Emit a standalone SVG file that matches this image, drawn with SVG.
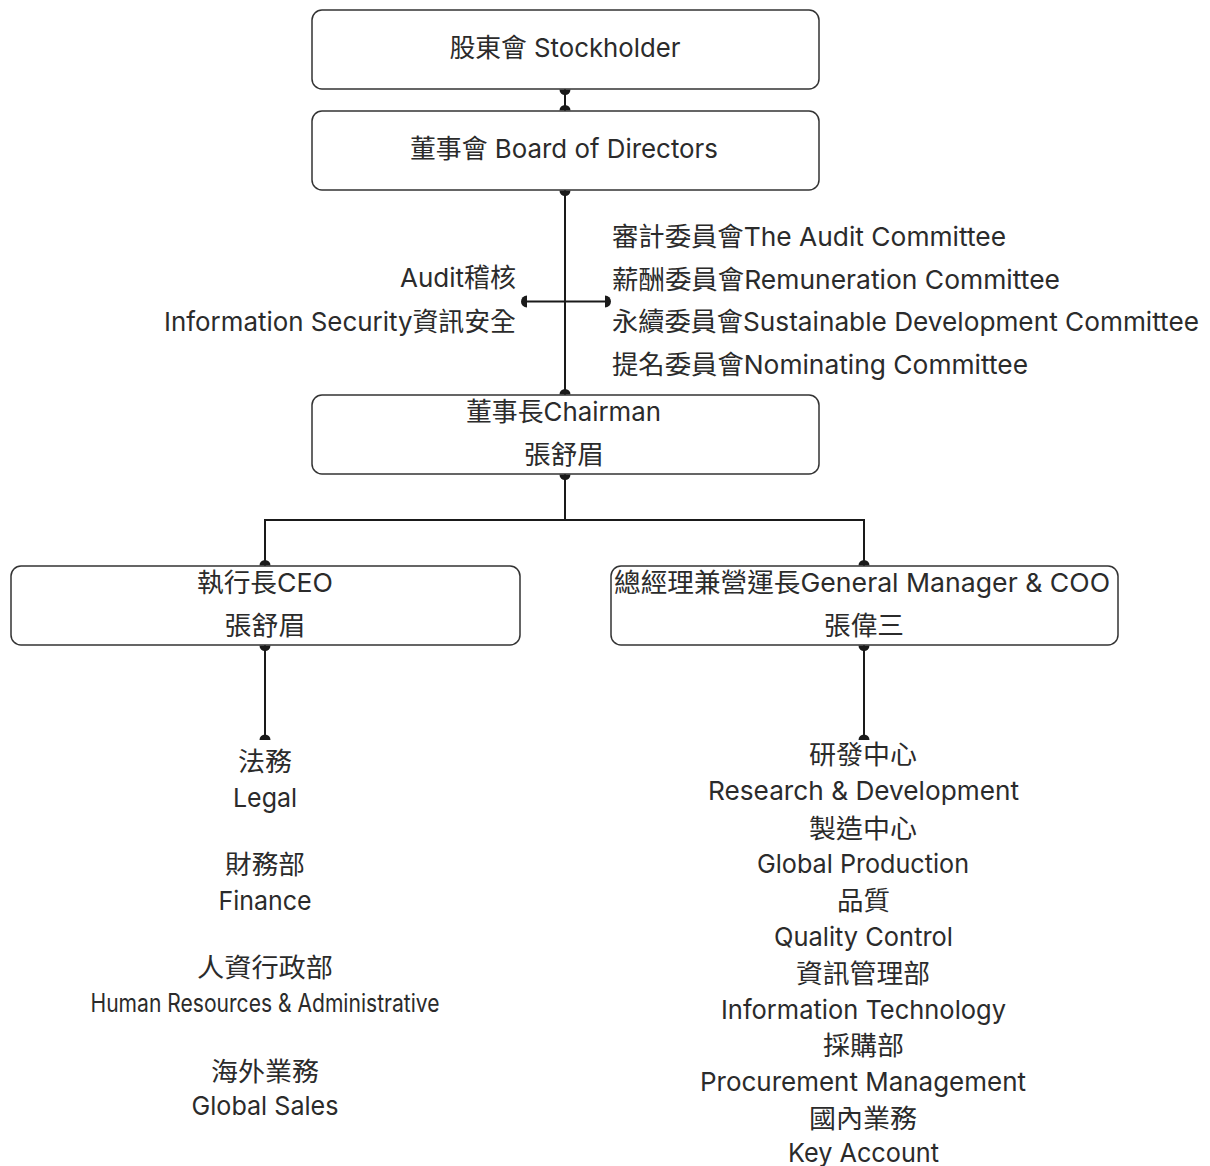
<svg xmlns="http://www.w3.org/2000/svg" width="1210" height="1166" viewBox="0 0 1210 1166">
<style>
.box{fill:#ffffff;stroke:#333333;stroke-width:1.5}
.ln{fill:none;stroke:#1a1a1a;stroke-width:2}
.dot{fill:#1a1a1a;stroke:none}
text{font-family:Inter,"Noto Sans CJK TC","Noto Sans CJK SC",sans-serif;font-size:26px;fill:#2b2b2b}
.c{text-anchor:middle}
.r{text-anchor:end}
</style>
<rect width="1210" height="1166" fill="#ffffff"/>
<g id="connectors">
<line class="ln" x1="565" y1="89" x2="565" y2="111"/>
<path class="dot" d="M559.5,89.5 A5.5,5.5 0 0 0 570.5,89.5 Z"/>
<path class="dot" d="M559.5,110.5 A5.5,5.5 0 0 1 570.5,110.5 Z"/>
<line class="ln" x1="565" y1="190" x2="565" y2="395"/>
<path class="dot" d="M559.5,190.5 A5.5,5.5 0 0 0 570.5,190.5 Z"/>
<path class="dot" d="M559.5,394.5 A5.5,5.5 0 0 1 570.5,394.5 Z"/>
<line class="ln" x1="526" y1="301.5" x2="606" y2="301.5"/>
<path class="dot" d="M527,295.5 A6,6 0 0 0 527,307.5 Z"/>
<path class="dot" d="M605,295.5 A6,6 0 0 1 605,307.5 Z"/>
<polyline class="ln" points="565,474 565,520 265,520 265,566"/>
<polyline class="ln" points="565,520 864,520 864,566"/>
<path class="dot" d="M559.5,474.5 A5.5,5.5 0 0 0 570.5,474.5 Z"/>
<path class="dot" d="M259.5,565.5 A5.5,5.5 0 0 1 270.5,565.5 Z"/>
<path class="dot" d="M858.5,565.5 A5.5,5.5 0 0 1 869.5,565.5 Z"/>
<line class="ln" x1="265" y1="645" x2="265" y2="740"/>
<path class="dot" d="M259.5,645.5 A5.5,5.5 0 0 0 270.5,645.5 Z"/>
<path class="dot" d="M259.5,740 A5.5,5.5 0 0 1 270.5,740 Z"/>
<line class="ln" x1="864" y1="645" x2="864" y2="740"/>
<path class="dot" d="M858.5,645.5 A5.5,5.5 0 0 0 869.5,645.5 Z"/>
<path class="dot" d="M858.5,740 A5.5,5.5 0 0 1 869.5,740 Z"/>
</g>
<g id="stockholder">
<rect class="box" x="312" y="10" width="507" height="79" rx="10"/>
<text class="c" x="565" y="57" textLength="231" lengthAdjust="spacingAndGlyphs">股東會 Stockholder</text>
</g>
<g id="board">
<rect class="box" x="312" y="111" width="507" height="79" rx="10"/>
<text class="c" x="564" y="158" textLength="308" lengthAdjust="spacingAndGlyphs">董事會 Board of Directors</text>
</g>
<g id="audit">
<text class="r" x="516" y="287" textLength="116" lengthAdjust="spacingAndGlyphs">Audit稽核</text>
<text class="r" x="516" y="331" textLength="352" lengthAdjust="spacingAndGlyphs">Information Security資訊安全</text>
</g>
<g id="committees">
<text x="612" y="246" textLength="394" lengthAdjust="spacingAndGlyphs">審計委員會The Audit Committee</text>
<text x="612" y="289" textLength="448" lengthAdjust="spacingAndGlyphs">薪酬委員會Remuneration Committee</text>
<text x="612" y="331" textLength="587" lengthAdjust="spacingAndGlyphs">永續委員會Sustainable Development Committee</text>
<text x="612" y="374" textLength="416" lengthAdjust="spacingAndGlyphs">提名委員會Nominating Committee</text>
</g>
<g id="chairman">
<rect class="box" x="312" y="395" width="507" height="79" rx="10"/>
<text class="c" x="563.5" y="421" textLength="195" lengthAdjust="spacingAndGlyphs">董事長Chairman</text>
<text class="c" x="564" y="464" textLength="80" lengthAdjust="spacingAndGlyphs">張舒眉</text>
</g>
<g id="ceo">
<rect class="box" x="11" y="566" width="509" height="79" rx="10"/>
<text class="c" x="265" y="592" textLength="136" lengthAdjust="spacingAndGlyphs">執行長CEO</text>
<text class="c" x="265" y="635" textLength="81" lengthAdjust="spacingAndGlyphs">張舒眉</text>
</g>
<g id="gm">
<rect class="box" x="611" y="566" width="507" height="79" rx="10"/>
<text class="c" x="862" y="592" textLength="496" lengthAdjust="spacingAndGlyphs">總經理兼營運長General Manager &amp; COO</text>
<text class="c" x="864" y="635" textLength="80" lengthAdjust="spacingAndGlyphs">張偉三</text>
</g>
<g id="ceo-units">
<text class="c" x="265" y="771" textLength="54" lengthAdjust="spacingAndGlyphs">法務</text>
<text class="c" x="265" y="807" textLength="64" lengthAdjust="spacingAndGlyphs">Legal</text>
<text class="c" x="265" y="874" textLength="80" lengthAdjust="spacingAndGlyphs">財務部</text>
<text class="c" x="265" y="910" textLength="93" lengthAdjust="spacingAndGlyphs">Finance</text>
<text class="c" x="265" y="977" textLength="136" lengthAdjust="spacingAndGlyphs">人資行政部</text>
<text class="c" x="265" y="1012" textLength="349" lengthAdjust="spacingAndGlyphs" style="font-size:25px">Human Resources &amp; Administrative</text>
<text class="c" x="265" y="1081" textLength="108" lengthAdjust="spacingAndGlyphs">海外業務</text>
<text class="c" x="265" y="1115" textLength="147" lengthAdjust="spacingAndGlyphs">Global Sales</text>
</g>
<g id="gm-units">
<text class="c" x="863" y="764" textLength="108" lengthAdjust="spacingAndGlyphs">研發中心</text>
<text class="c" x="863.5" y="800" textLength="311" lengthAdjust="spacingAndGlyphs">Research &amp; Development</text>
<text class="c" x="863" y="838" textLength="108" lengthAdjust="spacingAndGlyphs">製造中心</text>
<text class="c" x="863" y="873" textLength="212" lengthAdjust="spacingAndGlyphs">Global Production</text>
<text class="c" x="863.5" y="910" textLength="53" lengthAdjust="spacingAndGlyphs">品質</text>
<text class="c" x="863.5" y="946" textLength="179" lengthAdjust="spacingAndGlyphs">Quality Control</text>
<text class="c" x="863" y="983" textLength="134" lengthAdjust="spacingAndGlyphs">資訊管理部</text>
<text class="c" x="863.5" y="1019" textLength="285" lengthAdjust="spacingAndGlyphs">Information Technology</text>
<text class="c" x="863.5" y="1055" textLength="81" lengthAdjust="spacingAndGlyphs">採購部</text>
<text class="c" x="863" y="1091" textLength="326" lengthAdjust="spacingAndGlyphs">Procurement Management</text>
<text class="c" x="863" y="1128" textLength="108" lengthAdjust="spacingAndGlyphs">國內業務</text>
<text class="c" x="863.5" y="1162" textLength="151" lengthAdjust="spacingAndGlyphs">Key Account</text>
</g>
</svg>
